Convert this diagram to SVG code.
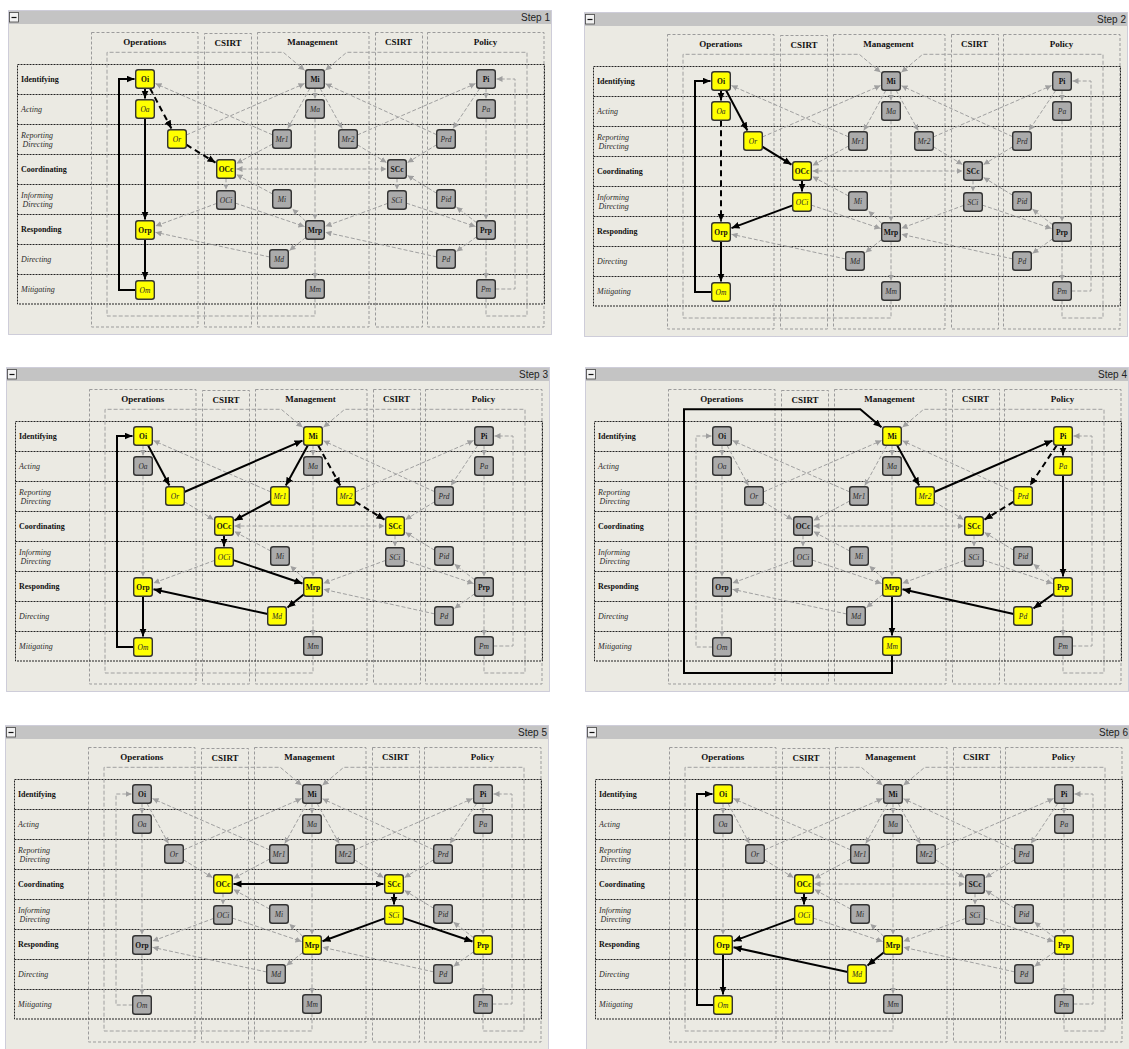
<svg xmlns="http://www.w3.org/2000/svg" xmlns:xlink="http://www.w3.org/1999/xlink" width="1129" height="1049" viewBox="0 0 1129 1049">
<style>
.fr{fill:#ebeae3;stroke:#a6a6c0;stroke-dasharray:1 1}
.bar{fill:#c4c4c4}
.mb{fill:#f2f2f2;stroke:#444;stroke-width:.8}
.col{fill:none;stroke:#9b9b9b;stroke-dasharray:3 2}
.rl{fill:none;stroke:#222;stroke-dasharray:2 1}
.hd{font-family:"Liberation Serif","DejaVu Serif",serif;font-weight:bold;font-size:9px;text-anchor:middle;fill:#111}
.rb{font-family:"Liberation Serif","DejaVu Serif",serif;font-weight:bold;font-size:8px;fill:#111}
.ri{font-family:"Liberation Serif","DejaVu Serif",serif;font-style:italic;font-size:8px;fill:#2b2b2b}
.st{font-family:"Liberation Sans",Arial,sans-serif;font-size:10px;text-anchor:end;fill:#222}
.g{fill:none;stroke:#a0a0a0;stroke-dasharray:4 2;marker-end:url(#ag)}
.g2{marker-start:url(#ag)}
.bk{fill:none;stroke:#000;stroke-width:2;marker-end:url(#ab)}
.b2{marker-start:url(#ab)}
.d{stroke-dasharray:6 4}
.n rect{stroke:#333;stroke-width:1.4}
.k rect{fill:#ababab}
.y rect{fill:#ffff00}
.n text{font-family:"Liberation Serif","DejaVu Serif",serif;font-size:7.5px;text-anchor:middle;fill:#111}
.bo text{font-weight:bold}
.it text{font-style:italic;fill:#2a2a2a}
</style>
<defs>
<marker id="ag" markerUnits="userSpaceOnUse" markerWidth="7" markerHeight="6" refX="6" refY="3" orient="auto-start-reverse"><path d="M0 0L6 3L0 6z" fill="#a0a0a0"/></marker>
<marker id="ab" markerUnits="userSpaceOnUse" markerWidth="9" markerHeight="8" refX="8" refY="3.5" orient="auto-start-reverse"><path d="M0 0L8 3.5L0 7z" fill="#000"/></marker>
<g id="grid">
<rect class="fr" x="8.5" y="10.5" width="543" height="324"/>
<rect class="bar" x="9" y="11" width="542" height="13"/>
<rect class="mb" x="9.5" y="12.5" width="9" height="9.5"/>
<path d="M11.5 17.5H16.5" stroke="#111" stroke-width="1.2"/>
<rect class="col" x="91.5" y="32.5" width="106.5" height="294.5"/>
<rect class="col" x="204.5" y="33.5" width="47" height="293.5"/>
<rect class="col" x="257.5" y="32.5" width="111.5" height="294.5"/>
<rect class="col" x="375.5" y="32.5" width="47" height="294.5"/>
<rect class="col" x="427.5" y="32.5" width="116.5" height="294.5"/>
<rect class="rl" x="17.5" y="64.5" width="527" height="239.5"/>
<path class="rl" d="M17.5 94.5H544.5M17.5 124.5H544.5M17.5 154.5H544.5M17.5 184.5H544.5M17.5 214.5H544.5M17.5 244.5H544.5M17.5 274.5H544.5"/>
</g>
</defs>
<rect width="1129" height="1049" fill="#fff"/>

<!-- PANEL 1 -->
<g id="panel1" transform="translate(0 0)">
<use href="#grid"/>
<text class="st" x="550" y="21">Step 1</text>
<text class="hd" x="144.7" y="45">Operations</text><text class="hd" x="228" y="46">CSIRT</text><text class="hd" x="312.5" y="45">Management</text><text class="hd" x="398.5" y="45">CSIRT</text><text class="hd" x="485.5" y="45">Policy</text>
<text class="rb" x="21" y="82">Identifying</text><text class="ri" x="21" y="112">Acting</text><text class="ri" x="21" y="137.5">Reporting<tspan x="22.5" y="146.5">Directing</tspan></text><text class="rb" x="21" y="172">Coordinating</text><text class="ri" x="21" y="197.5">Informing<tspan x="22.5" y="206.5">Directing</tspan></text><text class="rb" x="21" y="232">Responding</text><text class="ri" x="21" y="262">Directing</text><text class="ri" x="21" y="292">Mitigating</text>
<g id="p1-edges">
<path class="g" d="M186.3 135L304.5 83.6"/><path class="g" d="M272.7 134.9L155.5 83.6"/><path class="g" d="M272.7 144L236.5 163.4"/><path class="g" d="M315 88.3V98.5"/><path class="g" d="M309.9 88.3L287.8 128.5"/><path class="g" d="M320.1 88.3L342.2 128.5"/><path class="g" d="M357.3 144.7L386.5 162.6"/><path class="g" d="M357.3 135L475.5 83.6"/><path class="g" d="M436.7 134.7L325.5 83.8"/><path class="g" d="M486 88.3V98.5"/><path class="g" d="M479.8 88.3L453 128.5"/><path class="g" d="M436.7 144.7L407.5 162.6"/><path class="g g2" d="M236.5 169H386.5"/><path class="g" d="M226 178.3V189.5"/><path class="g" d="M397 178.3V189.5"/><path class="g" d="M272.7 194L236.5 174.6"/><path class="g" d="M305.7 221.3L292.5 208.9"/><path class="g" d="M436.7 193.3L407.5 175.4"/><path class="g" d="M476.7 222.8L456.5 207.1"/><path class="g" d="M216.7 203.4L155.5 226.1"/><path class="g" d="M235.3 203.1L304.5 226.5"/><path class="g" d="M387.7 203.4L325.5 226.2"/><path class="g" d="M406.3 203.1L475.5 226.5"/><path class="g" d="M315 118.3V219.5"/><path class="g" d="M486 118.3V219.5"/><path class="g" d="M305.7 237.5L289.5 250.5"/><path class="g" d="M315 239.3V278.5"/><path class="g" d="M269.7 257L155.5 232.3"/><path class="g" d="M476.7 236.7L456.5 251.4"/><path class="g" d="M436.7 256.9L325.5 232.3"/><path class="g" d="M486 239.3V278.5"/><path class="g" d="M315 298.3V316H107V52.3H283.3L304.5 70.2"/><path class="g" d="M486 298.3V316H527V52.3H346.7L325.5 70.2"/><path class="g" d="M495.3 289H515V79H496.5"/>
<path class="bk" d="M145 88.3V98.5"/><path class="bk" d="M145 118.3V219.5"/><path class="bk" d="M145 239.3V279.5"/><path class="bk" d="M135.7 290H119V79H134.5"/>
<path class="bk d" d="M150 88.3L171.4 128.5"/><path class="bk d" d="M186.3 144.7L215.5 162.6"/>
</g>
<g id="p1-nodes">
<g id="p1-Oi" class="n y bo" transform="translate(145 79)"><rect x="-9.3" y="-9.3" width="18.6" height="18.6" rx="2.5"/><text y="2.8">Oi</text></g>
<g id="p1-Oa" class="n y it" transform="translate(145 109)"><rect x="-9.3" y="-9.3" width="18.6" height="18.6" rx="2.5"/><text y="2.8">Oa</text></g>
<g id="p1-Or" class="n y it" transform="translate(177 139)"><rect x="-9.3" y="-9.3" width="18.6" height="18.6" rx="2.5"/><text y="2.8">Or</text></g>
<g id="p1-OCc" class="n y bo" transform="translate(226 169)"><rect x="-9.3" y="-9.3" width="18.6" height="18.6" rx="2.5"/><text y="2.8">OCc</text></g>
<g id="p1-OCi" class="n k it" transform="translate(226 200)"><rect x="-9.3" y="-9.3" width="18.6" height="18.6" rx="2.5"/><text y="2.8">OCi</text></g>
<g id="p1-Orp" class="n y bo" transform="translate(145 230)"><rect x="-9.3" y="-9.3" width="18.6" height="18.6" rx="2.5"/><text y="2.8">Orp</text></g>
<g id="p1-Om" class="n y it" transform="translate(145 290)"><rect x="-9.3" y="-9.3" width="18.6" height="18.6" rx="2.5"/><text y="2.8">Om</text></g>
<g id="p1-Mi" class="n k bo" transform="translate(315 79)"><rect x="-9.3" y="-9.3" width="18.6" height="18.6" rx="2.5"/><text y="2.8">Mi</text></g>
<g id="p1-Ma" class="n k it" transform="translate(315 109)"><rect x="-9.3" y="-9.3" width="18.6" height="18.6" rx="2.5"/><text y="2.8">Ma</text></g>
<g id="p1-Mr1" class="n k it" transform="translate(282 139)"><rect x="-9.3" y="-9.3" width="18.6" height="18.6" rx="2.5"/><text y="2.8">Mr1</text></g>
<g id="p1-Mr2" class="n k it" transform="translate(348 139)"><rect x="-9.3" y="-9.3" width="18.6" height="18.6" rx="2.5"/><text y="2.8">Mr2</text></g>
<g id="p1-Mi2" class="n k it" transform="translate(282 199)"><rect x="-9.3" y="-9.3" width="18.6" height="18.6" rx="2.5"/><text y="2.8">Mi</text></g>
<g id="p1-Mrp" class="n k bo" transform="translate(315 230)"><rect x="-9.3" y="-9.3" width="18.6" height="18.6" rx="2.5"/><text y="2.8">Mrp</text></g>
<g id="p1-Md" class="n k it" transform="translate(279 259)"><rect x="-9.3" y="-9.3" width="18.6" height="18.6" rx="2.5"/><text y="2.8">Md</text></g>
<g id="p1-Mm" class="n k it" transform="translate(315 289)"><rect x="-9.3" y="-9.3" width="18.6" height="18.6" rx="2.5"/><text y="2.8">Mm</text></g>
<g id="p1-SCc" class="n k bo" transform="translate(397 169)"><rect x="-9.3" y="-9.3" width="18.6" height="18.6" rx="2.5"/><text y="2.8">SCc</text></g>
<g id="p1-SCi" class="n k it" transform="translate(397 200)"><rect x="-9.3" y="-9.3" width="18.6" height="18.6" rx="2.5"/><text y="2.8">SCi</text></g>
<g id="p1-Pi" class="n k bo" transform="translate(486 79)"><rect x="-9.3" y="-9.3" width="18.6" height="18.6" rx="2.5"/><text y="2.8">Pi</text></g>
<g id="p1-Pa" class="n k it" transform="translate(486 109)"><rect x="-9.3" y="-9.3" width="18.6" height="18.6" rx="2.5"/><text y="2.8">Pa</text></g>
<g id="p1-Prd" class="n k it" transform="translate(446 139)"><rect x="-9.3" y="-9.3" width="18.6" height="18.6" rx="2.5"/><text y="2.8">Prd</text></g>
<g id="p1-Pid" class="n k it" transform="translate(446 199)"><rect x="-9.3" y="-9.3" width="18.6" height="18.6" rx="2.5"/><text y="2.8">Pid</text></g>
<g id="p1-Prp" class="n k bo" transform="translate(486 230)"><rect x="-9.3" y="-9.3" width="18.6" height="18.6" rx="2.5"/><text y="2.8">Prp</text></g>
<g id="p1-Pd" class="n k it" transform="translate(446 259)"><rect x="-9.3" y="-9.3" width="18.6" height="18.6" rx="2.5"/><text y="2.8">Pd</text></g>
<g id="p1-Pm" class="n k it" transform="translate(486 289)"><rect x="-9.3" y="-9.3" width="18.6" height="18.6" rx="2.5"/><text y="2.8">Pm</text></g>
</g>
</g>

<!-- PANEL 2 -->
<g id="panel2" transform="translate(576 2)">
<use href="#grid"/>
<text class="st" x="550" y="21">Step 2</text>
<text class="hd" x="144.7" y="45">Operations</text><text class="hd" x="228" y="46">CSIRT</text><text class="hd" x="312.5" y="45">Management</text><text class="hd" x="398.5" y="45">CSIRT</text><text class="hd" x="485.5" y="45">Policy</text>
<text class="rb" x="21" y="82">Identifying</text><text class="ri" x="21" y="112">Acting</text><text class="ri" x="21" y="137.5">Reporting<tspan x="22.5" y="146.5">Directing</tspan></text><text class="rb" x="21" y="172">Coordinating</text><text class="ri" x="21" y="197.5">Informing<tspan x="22.5" y="206.5">Directing</tspan></text><text class="rb" x="21" y="232">Responding</text><text class="ri" x="21" y="262">Directing</text><text class="ri" x="21" y="292">Mitigating</text>
<g id="p2-edges">
<path class="g" d="M186.3 135L304.5 83.6"/><path class="g" d="M272.7 134.9L155.5 83.6"/><path class="g" d="M272.7 144L236.5 163.4"/><path class="g" d="M315 88.3V98.5"/><path class="g" d="M309.9 88.3L287.8 128.5"/><path class="g" d="M320.1 88.3L342.2 128.5"/><path class="g" d="M357.3 144.7L386.5 162.6"/><path class="g" d="M357.3 135L475.5 83.6"/><path class="g" d="M436.7 134.7L325.5 83.8"/><path class="g" d="M486 88.3V98.5"/><path class="g" d="M479.8 88.3L453 128.5"/><path class="g" d="M436.7 144.7L407.5 162.6"/><path class="g g2" d="M236.5 169H386.5"/><path class="g" d="M397 178.3V189.5"/><path class="g" d="M272.7 194L236.5 174.6"/><path class="g" d="M305.7 221.3L292.5 208.9"/><path class="g" d="M436.7 193.3L407.5 175.4"/><path class="g" d="M476.7 222.8L456.5 207.1"/><path class="g" d="M235.3 203.1L304.5 226.5"/><path class="g" d="M387.7 203.4L325.5 226.2"/><path class="g" d="M406.3 203.1L475.5 226.5"/><path class="g" d="M315 118.3V219.5"/><path class="g" d="M486 118.3V219.5"/><path class="g" d="M305.7 237.5L289.5 250.5"/><path class="g" d="M315 239.3V278.5"/><path class="g" d="M269.7 257L155.5 232.3"/><path class="g" d="M476.7 236.7L456.5 251.4"/><path class="g" d="M436.7 256.9L325.5 232.3"/><path class="g" d="M486 239.3V278.5"/><path class="g" d="M315 298.3V316H107V52.3H283.3L304.5 70.2"/><path class="g" d="M486 298.3V316H527V52.3H346.7L325.5 70.2"/><path class="g" d="M495.3 289H515V79H496.5"/>
<path class="bk" d="M145 88.3V98.5"/><path class="bk" d="M150 88.3L171.4 128.5"/><path class="bk" d="M186.3 144.7L215.5 162.6"/><path class="bk" d="M226 178.3V189.5"/><path class="bk" d="M216.7 203.4L155.5 226.1"/><path class="bk" d="M145 239.3V279.5"/><path class="bk" d="M135.7 290H119V79H134.5"/>
<path class="bk d" d="M145 118.3V219.5"/>
</g>
<g id="p2-nodes">
<g id="p2-Oi" class="n y bo" transform="translate(145 79)"><rect x="-9.3" y="-9.3" width="18.6" height="18.6" rx="2.5"/><text y="2.8">Oi</text></g>
<g id="p2-Oa" class="n y it" transform="translate(145 109)"><rect x="-9.3" y="-9.3" width="18.6" height="18.6" rx="2.5"/><text y="2.8">Oa</text></g>
<g id="p2-Or" class="n y it" transform="translate(177 139)"><rect x="-9.3" y="-9.3" width="18.6" height="18.6" rx="2.5"/><text y="2.8">Or</text></g>
<g id="p2-OCc" class="n y bo" transform="translate(226 169)"><rect x="-9.3" y="-9.3" width="18.6" height="18.6" rx="2.5"/><text y="2.8">OCc</text></g>
<g id="p2-OCi" class="n y it" transform="translate(226 200)"><rect x="-9.3" y="-9.3" width="18.6" height="18.6" rx="2.5"/><text y="2.8">OCi</text></g>
<g id="p2-Orp" class="n y bo" transform="translate(145 230)"><rect x="-9.3" y="-9.3" width="18.6" height="18.6" rx="2.5"/><text y="2.8">Orp</text></g>
<g id="p2-Om" class="n y it" transform="translate(145 290)"><rect x="-9.3" y="-9.3" width="18.6" height="18.6" rx="2.5"/><text y="2.8">Om</text></g>
<g id="p2-Mi" class="n k bo" transform="translate(315 79)"><rect x="-9.3" y="-9.3" width="18.6" height="18.6" rx="2.5"/><text y="2.8">Mi</text></g>
<g id="p2-Ma" class="n k it" transform="translate(315 109)"><rect x="-9.3" y="-9.3" width="18.6" height="18.6" rx="2.5"/><text y="2.8">Ma</text></g>
<g id="p2-Mr1" class="n k it" transform="translate(282 139)"><rect x="-9.3" y="-9.3" width="18.6" height="18.6" rx="2.5"/><text y="2.8">Mr1</text></g>
<g id="p2-Mr2" class="n k it" transform="translate(348 139)"><rect x="-9.3" y="-9.3" width="18.6" height="18.6" rx="2.5"/><text y="2.8">Mr2</text></g>
<g id="p2-Mi2" class="n k it" transform="translate(282 199)"><rect x="-9.3" y="-9.3" width="18.6" height="18.6" rx="2.5"/><text y="2.8">Mi</text></g>
<g id="p2-Mrp" class="n k bo" transform="translate(315 230)"><rect x="-9.3" y="-9.3" width="18.6" height="18.6" rx="2.5"/><text y="2.8">Mrp</text></g>
<g id="p2-Md" class="n k it" transform="translate(279 259)"><rect x="-9.3" y="-9.3" width="18.6" height="18.6" rx="2.5"/><text y="2.8">Md</text></g>
<g id="p2-Mm" class="n k it" transform="translate(315 289)"><rect x="-9.3" y="-9.3" width="18.6" height="18.6" rx="2.5"/><text y="2.8">Mm</text></g>
<g id="p2-SCc" class="n k bo" transform="translate(397 169)"><rect x="-9.3" y="-9.3" width="18.6" height="18.6" rx="2.5"/><text y="2.8">SCc</text></g>
<g id="p2-SCi" class="n k it" transform="translate(397 200)"><rect x="-9.3" y="-9.3" width="18.6" height="18.6" rx="2.5"/><text y="2.8">SCi</text></g>
<g id="p2-Pi" class="n k bo" transform="translate(486 79)"><rect x="-9.3" y="-9.3" width="18.6" height="18.6" rx="2.5"/><text y="2.8">Pi</text></g>
<g id="p2-Pa" class="n k it" transform="translate(486 109)"><rect x="-9.3" y="-9.3" width="18.6" height="18.6" rx="2.5"/><text y="2.8">Pa</text></g>
<g id="p2-Prd" class="n k it" transform="translate(446 139)"><rect x="-9.3" y="-9.3" width="18.6" height="18.6" rx="2.5"/><text y="2.8">Prd</text></g>
<g id="p2-Pid" class="n k it" transform="translate(446 199)"><rect x="-9.3" y="-9.3" width="18.6" height="18.6" rx="2.5"/><text y="2.8">Pid</text></g>
<g id="p2-Prp" class="n k bo" transform="translate(486 230)"><rect x="-9.3" y="-9.3" width="18.6" height="18.6" rx="2.5"/><text y="2.8">Prp</text></g>
<g id="p2-Pd" class="n k it" transform="translate(446 259)"><rect x="-9.3" y="-9.3" width="18.6" height="18.6" rx="2.5"/><text y="2.8">Pd</text></g>
<g id="p2-Pm" class="n k it" transform="translate(486 289)"><rect x="-9.3" y="-9.3" width="18.6" height="18.6" rx="2.5"/><text y="2.8">Pm</text></g>
</g>
</g>

<!-- PANEL 3 -->
<g id="panel3" transform="translate(-2 357)">
<use href="#grid"/>
<text class="st" x="550" y="21">Step 3</text>
<text class="hd" x="144.7" y="45">Operations</text><text class="hd" x="228" y="46">CSIRT</text><text class="hd" x="312.5" y="45">Management</text><text class="hd" x="398.5" y="45">CSIRT</text><text class="hd" x="485.5" y="45">Policy</text>
<text class="rb" x="21" y="82">Identifying</text><text class="ri" x="21" y="112">Acting</text><text class="ri" x="21" y="137.5">Reporting<tspan x="22.5" y="146.5">Directing</tspan></text><text class="rb" x="21" y="172">Coordinating</text><text class="ri" x="21" y="197.5">Informing<tspan x="22.5" y="206.5">Directing</tspan></text><text class="rb" x="21" y="232">Responding</text><text class="ri" x="21" y="262">Directing</text><text class="ri" x="21" y="292">Mitigating</text>
<g id="p3-edges">
<path class="g" d="M145 88.3V98.5"/><path class="g" d="M186.3 144.7L215.5 162.6"/><path class="g" d="M272.7 134.9L155.5 83.6"/><path class="g" d="M315 88.3V98.5"/><path class="g" d="M357.3 135L475.5 83.6"/><path class="g" d="M436.7 134.7L325.5 83.8"/><path class="g" d="M486 88.3V98.5"/><path class="g" d="M479.8 88.3L453 128.5"/><path class="g" d="M436.7 144.7L407.5 162.6"/><path class="g g2" d="M236.5 169H386.5"/><path class="g" d="M397 178.3V189.5"/><path class="g" d="M272.7 194L236.5 174.6"/><path class="g" d="M305.7 221.3L292.5 208.9"/><path class="g" d="M436.7 193.3L407.5 175.4"/><path class="g" d="M476.7 222.8L456.5 207.1"/><path class="g" d="M216.7 203.4L155.5 226.1"/><path class="g" d="M387.7 203.4L325.5 226.2"/><path class="g" d="M406.3 203.1L475.5 226.5"/><path class="g" d="M145 118.3V219.5"/><path class="g" d="M315 118.3V219.5"/><path class="g" d="M486 118.3V219.5"/><path class="g" d="M315 239.3V278.5"/><path class="g" d="M476.7 236.7L456.5 251.4"/><path class="g" d="M436.7 256.9L325.5 232.3"/><path class="g" d="M486 239.3V278.5"/><path class="g" d="M315 298.3V316H107V52.3H283.3L304.5 70.2"/><path class="g" d="M486 298.3V316H527V52.3H346.7L325.5 70.2"/><path class="g" d="M495.3 289H515V79H496.5"/>
<path class="bk" d="M150 88.3L171.4 128.5"/><path class="bk" d="M186.3 135L304.5 83.6"/><path class="bk" d="M309.9 88.3L287.8 128.5"/><path class="bk" d="M272.7 144L236.5 163.4"/><path class="bk" d="M226 178.3V189.5"/><path class="bk" d="M235.3 203.1L304.5 226.5"/><path class="bk" d="M305.7 237.5L289.5 250.5"/><path class="bk" d="M269.7 257L155.5 232.3"/><path class="bk" d="M145 239.3V279.5"/><path class="bk" d="M135.7 290H119V79H134.5"/>
<path class="bk d" d="M320.1 88.3L342.2 128.5"/><path class="bk d" d="M357.3 144.7L386.5 162.6"/>
</g>
<g id="p3-nodes">
<g id="p3-Oi" class="n y bo" transform="translate(145 79)"><rect x="-9.3" y="-9.3" width="18.6" height="18.6" rx="2.5"/><text y="2.8">Oi</text></g>
<g id="p3-Oa" class="n k it" transform="translate(145 109)"><rect x="-9.3" y="-9.3" width="18.6" height="18.6" rx="2.5"/><text y="2.8">Oa</text></g>
<g id="p3-Or" class="n y it" transform="translate(177 139)"><rect x="-9.3" y="-9.3" width="18.6" height="18.6" rx="2.5"/><text y="2.8">Or</text></g>
<g id="p3-OCc" class="n y bo" transform="translate(226 169)"><rect x="-9.3" y="-9.3" width="18.6" height="18.6" rx="2.5"/><text y="2.8">OCc</text></g>
<g id="p3-OCi" class="n y it" transform="translate(226 200)"><rect x="-9.3" y="-9.3" width="18.6" height="18.6" rx="2.5"/><text y="2.8">OCi</text></g>
<g id="p3-Orp" class="n y bo" transform="translate(145 230)"><rect x="-9.3" y="-9.3" width="18.6" height="18.6" rx="2.5"/><text y="2.8">Orp</text></g>
<g id="p3-Om" class="n y it" transform="translate(145 290)"><rect x="-9.3" y="-9.3" width="18.6" height="18.6" rx="2.5"/><text y="2.8">Om</text></g>
<g id="p3-Mi" class="n y bo" transform="translate(315 79)"><rect x="-9.3" y="-9.3" width="18.6" height="18.6" rx="2.5"/><text y="2.8">Mi</text></g>
<g id="p3-Ma" class="n k it" transform="translate(315 109)"><rect x="-9.3" y="-9.3" width="18.6" height="18.6" rx="2.5"/><text y="2.8">Ma</text></g>
<g id="p3-Mr1" class="n y it" transform="translate(282 139)"><rect x="-9.3" y="-9.3" width="18.6" height="18.6" rx="2.5"/><text y="2.8">Mr1</text></g>
<g id="p3-Mr2" class="n y it" transform="translate(348 139)"><rect x="-9.3" y="-9.3" width="18.6" height="18.6" rx="2.5"/><text y="2.8">Mr2</text></g>
<g id="p3-Mi2" class="n k it" transform="translate(282 199)"><rect x="-9.3" y="-9.3" width="18.6" height="18.6" rx="2.5"/><text y="2.8">Mi</text></g>
<g id="p3-Mrp" class="n y bo" transform="translate(315 230)"><rect x="-9.3" y="-9.3" width="18.6" height="18.6" rx="2.5"/><text y="2.8">Mrp</text></g>
<g id="p3-Md" class="n y it" transform="translate(279 259)"><rect x="-9.3" y="-9.3" width="18.6" height="18.6" rx="2.5"/><text y="2.8">Md</text></g>
<g id="p3-Mm" class="n k it" transform="translate(315 289)"><rect x="-9.3" y="-9.3" width="18.6" height="18.6" rx="2.5"/><text y="2.8">Mm</text></g>
<g id="p3-SCc" class="n y bo" transform="translate(397 169)"><rect x="-9.3" y="-9.3" width="18.6" height="18.6" rx="2.5"/><text y="2.8">SCc</text></g>
<g id="p3-SCi" class="n k it" transform="translate(397 200)"><rect x="-9.3" y="-9.3" width="18.6" height="18.6" rx="2.5"/><text y="2.8">SCi</text></g>
<g id="p3-Pi" class="n k bo" transform="translate(486 79)"><rect x="-9.3" y="-9.3" width="18.6" height="18.6" rx="2.5"/><text y="2.8">Pi</text></g>
<g id="p3-Pa" class="n k it" transform="translate(486 109)"><rect x="-9.3" y="-9.3" width="18.6" height="18.6" rx="2.5"/><text y="2.8">Pa</text></g>
<g id="p3-Prd" class="n k it" transform="translate(446 139)"><rect x="-9.3" y="-9.3" width="18.6" height="18.6" rx="2.5"/><text y="2.8">Prd</text></g>
<g id="p3-Pid" class="n k it" transform="translate(446 199)"><rect x="-9.3" y="-9.3" width="18.6" height="18.6" rx="2.5"/><text y="2.8">Pid</text></g>
<g id="p3-Prp" class="n k bo" transform="translate(486 230)"><rect x="-9.3" y="-9.3" width="18.6" height="18.6" rx="2.5"/><text y="2.8">Prp</text></g>
<g id="p3-Pd" class="n k it" transform="translate(446 259)"><rect x="-9.3" y="-9.3" width="18.6" height="18.6" rx="2.5"/><text y="2.8">Pd</text></g>
<g id="p3-Pm" class="n k it" transform="translate(486 289)"><rect x="-9.3" y="-9.3" width="18.6" height="18.6" rx="2.5"/><text y="2.8">Pm</text></g>
</g>
</g>

<!-- PANEL 4 -->
<g id="panel4" transform="translate(577 357)">
<use href="#grid"/>
<text class="st" x="550" y="21">Step 4</text>
<text class="hd" x="144.7" y="45">Operations</text><text class="hd" x="228" y="46">CSIRT</text><text class="hd" x="312.5" y="45">Management</text><text class="hd" x="398.5" y="45">CSIRT</text><text class="hd" x="485.5" y="45">Policy</text>
<text class="rb" x="21" y="82">Identifying</text><text class="ri" x="21" y="112">Acting</text><text class="ri" x="21" y="137.5">Reporting<tspan x="22.5" y="146.5">Directing</tspan></text><text class="rb" x="21" y="172">Coordinating</text><text class="ri" x="21" y="197.5">Informing<tspan x="22.5" y="206.5">Directing</tspan></text><text class="rb" x="21" y="232">Responding</text><text class="ri" x="21" y="262">Directing</text><text class="ri" x="21" y="292">Mitigating</text>
<g id="p4-edges">
<path class="g" d="M145 88.3V98.5"/><path class="g" d="M150 88.3L171.4 128.5"/><path class="g" d="M186.3 144.7L215.5 162.6"/><path class="g" d="M186.3 135L304.5 83.6"/><path class="g" d="M272.7 134.9L155.5 83.6"/><path class="g" d="M272.7 144L236.5 163.4"/><path class="g" d="M315 88.3V98.5"/><path class="g" d="M309.9 88.3L287.8 128.5"/><path class="g" d="M357.3 144.7L386.5 162.6"/><path class="g" d="M436.7 134.7L325.5 83.8"/><path class="g g2" d="M236.5 169H386.5"/><path class="g" d="M226 178.3V189.5"/><path class="g" d="M397 178.3V189.5"/><path class="g" d="M272.7 194L236.5 174.6"/><path class="g" d="M305.7 221.3L292.5 208.9"/><path class="g" d="M436.7 193.3L407.5 175.4"/><path class="g" d="M476.7 222.8L456.5 207.1"/><path class="g" d="M216.7 203.4L155.5 226.1"/><path class="g" d="M235.3 203.1L304.5 226.5"/><path class="g" d="M387.7 203.4L325.5 226.2"/><path class="g" d="M406.3 203.1L475.5 226.5"/><path class="g" d="M145 118.3V219.5"/><path class="g" d="M315 118.3V219.5"/><path class="g" d="M145 239.3V279.5"/><path class="g" d="M305.7 237.5L289.5 250.5"/><path class="g" d="M269.7 257L155.5 232.3"/><path class="g" d="M486 239.3V278.5"/><path class="g" d="M135.7 290H119V79H134.5"/><path class="g" d="M486 298.3V316H527V52.3H346.7L325.5 70.2"/><path class="g" d="M495.3 289H515V79H496.5"/>
<path class="bk" d="M320.1 88.3L342.2 128.5"/><path class="bk" d="M357.3 135L475.5 83.6"/><path class="bk" d="M486 88.3V98.5"/><path class="bk" d="M486 118.3V219.5"/><path class="bk" d="M476.7 236.7L456.5 251.4"/><path class="bk" d="M436.7 256.9L325.5 232.3"/><path class="bk" d="M315 239.3V278.5"/><path class="bk" d="M315 298.3V316H107V52.3H283.3L304.5 70.2"/>
<path class="bk d" d="M479.8 88.3L453 128.5"/><path class="bk d" d="M436.7 144.7L407.5 162.6"/>
</g>
<g id="p4-nodes">
<g id="p4-Oi" class="n k bo" transform="translate(145 79)"><rect x="-9.3" y="-9.3" width="18.6" height="18.6" rx="2.5"/><text y="2.8">Oi</text></g>
<g id="p4-Oa" class="n k it" transform="translate(145 109)"><rect x="-9.3" y="-9.3" width="18.6" height="18.6" rx="2.5"/><text y="2.8">Oa</text></g>
<g id="p4-Or" class="n k it" transform="translate(177 139)"><rect x="-9.3" y="-9.3" width="18.6" height="18.6" rx="2.5"/><text y="2.8">Or</text></g>
<g id="p4-OCc" class="n k bo" transform="translate(226 169)"><rect x="-9.3" y="-9.3" width="18.6" height="18.6" rx="2.5"/><text y="2.8">OCc</text></g>
<g id="p4-OCi" class="n k it" transform="translate(226 200)"><rect x="-9.3" y="-9.3" width="18.6" height="18.6" rx="2.5"/><text y="2.8">OCi</text></g>
<g id="p4-Orp" class="n k bo" transform="translate(145 230)"><rect x="-9.3" y="-9.3" width="18.6" height="18.6" rx="2.5"/><text y="2.8">Orp</text></g>
<g id="p4-Om" class="n k it" transform="translate(145 290)"><rect x="-9.3" y="-9.3" width="18.6" height="18.6" rx="2.5"/><text y="2.8">Om</text></g>
<g id="p4-Mi" class="n y bo" transform="translate(315 79)"><rect x="-9.3" y="-9.3" width="18.6" height="18.6" rx="2.5"/><text y="2.8">Mi</text></g>
<g id="p4-Ma" class="n k it" transform="translate(315 109)"><rect x="-9.3" y="-9.3" width="18.6" height="18.6" rx="2.5"/><text y="2.8">Ma</text></g>
<g id="p4-Mr1" class="n k it" transform="translate(282 139)"><rect x="-9.3" y="-9.3" width="18.6" height="18.6" rx="2.5"/><text y="2.8">Mr1</text></g>
<g id="p4-Mr2" class="n y it" transform="translate(348 139)"><rect x="-9.3" y="-9.3" width="18.6" height="18.6" rx="2.5"/><text y="2.8">Mr2</text></g>
<g id="p4-Mi2" class="n k it" transform="translate(282 199)"><rect x="-9.3" y="-9.3" width="18.6" height="18.6" rx="2.5"/><text y="2.8">Mi</text></g>
<g id="p4-Mrp" class="n y bo" transform="translate(315 230)"><rect x="-9.3" y="-9.3" width="18.6" height="18.6" rx="2.5"/><text y="2.8">Mrp</text></g>
<g id="p4-Md" class="n k it" transform="translate(279 259)"><rect x="-9.3" y="-9.3" width="18.6" height="18.6" rx="2.5"/><text y="2.8">Md</text></g>
<g id="p4-Mm" class="n y it" transform="translate(315 289)"><rect x="-9.3" y="-9.3" width="18.6" height="18.6" rx="2.5"/><text y="2.8">Mm</text></g>
<g id="p4-SCc" class="n y bo" transform="translate(397 169)"><rect x="-9.3" y="-9.3" width="18.6" height="18.6" rx="2.5"/><text y="2.8">SCc</text></g>
<g id="p4-SCi" class="n k it" transform="translate(397 200)"><rect x="-9.3" y="-9.3" width="18.6" height="18.6" rx="2.5"/><text y="2.8">SCi</text></g>
<g id="p4-Pi" class="n y bo" transform="translate(486 79)"><rect x="-9.3" y="-9.3" width="18.6" height="18.6" rx="2.5"/><text y="2.8">Pi</text></g>
<g id="p4-Pa" class="n y it" transform="translate(486 109)"><rect x="-9.3" y="-9.3" width="18.6" height="18.6" rx="2.5"/><text y="2.8">Pa</text></g>
<g id="p4-Prd" class="n y it" transform="translate(446 139)"><rect x="-9.3" y="-9.3" width="18.6" height="18.6" rx="2.5"/><text y="2.8">Prd</text></g>
<g id="p4-Pid" class="n k it" transform="translate(446 199)"><rect x="-9.3" y="-9.3" width="18.6" height="18.6" rx="2.5"/><text y="2.8">Pid</text></g>
<g id="p4-Prp" class="n y bo" transform="translate(486 230)"><rect x="-9.3" y="-9.3" width="18.6" height="18.6" rx="2.5"/><text y="2.8">Prp</text></g>
<g id="p4-Pd" class="n y it" transform="translate(446 259)"><rect x="-9.3" y="-9.3" width="18.6" height="18.6" rx="2.5"/><text y="2.8">Pd</text></g>
<g id="p4-Pm" class="n k it" transform="translate(486 289)"><rect x="-9.3" y="-9.3" width="18.6" height="18.6" rx="2.5"/><text y="2.8">Pm</text></g>
</g>
</g>

<!-- PANEL 5 -->
<g id="panel5" transform="translate(-3 715)">
<use href="#grid"/>
<text class="st" x="550" y="21">Step 5</text>
<text class="hd" x="144.7" y="45">Operations</text><text class="hd" x="228" y="46">CSIRT</text><text class="hd" x="312.5" y="45">Management</text><text class="hd" x="398.5" y="45">CSIRT</text><text class="hd" x="485.5" y="45">Policy</text>
<text class="rb" x="21" y="82">Identifying</text><text class="ri" x="21" y="112">Acting</text><text class="ri" x="21" y="137.5">Reporting<tspan x="22.5" y="146.5">Directing</tspan></text><text class="rb" x="21" y="172">Coordinating</text><text class="ri" x="21" y="197.5">Informing<tspan x="22.5" y="206.5">Directing</tspan></text><text class="rb" x="21" y="232">Responding</text><text class="ri" x="21" y="262">Directing</text><text class="ri" x="21" y="292">Mitigating</text>
<g id="p5-edges">
<path class="g" d="M145 88.3V98.5"/><path class="g" d="M150 88.3L171.4 128.5"/><path class="g" d="M186.3 144.7L215.5 162.6"/><path class="g" d="M186.3 135L304.5 83.6"/><path class="g" d="M272.7 134.9L155.5 83.6"/><path class="g" d="M272.7 144L236.5 163.4"/><path class="g" d="M315 88.3V98.5"/><path class="g" d="M309.9 88.3L287.8 128.5"/><path class="g" d="M320.1 88.3L342.2 128.5"/><path class="g" d="M357.3 144.7L386.5 162.6"/><path class="g" d="M357.3 135L475.5 83.6"/><path class="g" d="M436.7 134.7L325.5 83.8"/><path class="g" d="M486 88.3V98.5"/><path class="g" d="M479.8 88.3L453 128.5"/><path class="g" d="M436.7 144.7L407.5 162.6"/><path class="g" d="M226 178.3V189.5"/><path class="g" d="M272.7 194L236.5 174.6"/><path class="g" d="M305.7 221.3L292.5 208.9"/><path class="g" d="M436.7 193.3L407.5 175.4"/><path class="g" d="M476.7 222.8L456.5 207.1"/><path class="g" d="M216.7 203.4L155.5 226.1"/><path class="g" d="M235.3 203.1L304.5 226.5"/><path class="g" d="M145 118.3V219.5"/><path class="g" d="M315 118.3V219.5"/><path class="g" d="M486 118.3V219.5"/><path class="g" d="M145 239.3V279.5"/><path class="g" d="M305.7 237.5L289.5 250.5"/><path class="g" d="M315 239.3V278.5"/><path class="g" d="M269.7 257L155.5 232.3"/><path class="g" d="M476.7 236.7L456.5 251.4"/><path class="g" d="M436.7 256.9L325.5 232.3"/><path class="g" d="M486 239.3V278.5"/><path class="g" d="M135.7 290H119V79H134.5"/><path class="g" d="M315 298.3V316H107V52.3H283.3L304.5 70.2"/><path class="g" d="M486 298.3V316H527V52.3H346.7L325.5 70.2"/><path class="g" d="M495.3 289H515V79H496.5"/>
<path class="bk b2" d="M236.5 169H386.5"/><path class="bk" d="M397 178.3V189.5"/><path class="bk" d="M387.7 203.4L325.5 226.2"/><path class="bk" d="M406.3 203.1L475.5 226.5"/>
</g>
<g id="p5-nodes">
<g id="p5-Oi" class="n k bo" transform="translate(145 79)"><rect x="-9.3" y="-9.3" width="18.6" height="18.6" rx="2.5"/><text y="2.8">Oi</text></g>
<g id="p5-Oa" class="n k it" transform="translate(145 109)"><rect x="-9.3" y="-9.3" width="18.6" height="18.6" rx="2.5"/><text y="2.8">Oa</text></g>
<g id="p5-Or" class="n k it" transform="translate(177 139)"><rect x="-9.3" y="-9.3" width="18.6" height="18.6" rx="2.5"/><text y="2.8">Or</text></g>
<g id="p5-OCc" class="n y bo" transform="translate(226 169)"><rect x="-9.3" y="-9.3" width="18.6" height="18.6" rx="2.5"/><text y="2.8">OCc</text></g>
<g id="p5-OCi" class="n k it" transform="translate(226 200)"><rect x="-9.3" y="-9.3" width="18.6" height="18.6" rx="2.5"/><text y="2.8">OCi</text></g>
<g id="p5-Orp" class="n k bo" transform="translate(145 230)"><rect x="-9.3" y="-9.3" width="18.6" height="18.6" rx="2.5"/><text y="2.8">Orp</text></g>
<g id="p5-Om" class="n k it" transform="translate(145 290)"><rect x="-9.3" y="-9.3" width="18.6" height="18.6" rx="2.5"/><text y="2.8">Om</text></g>
<g id="p5-Mi" class="n k bo" transform="translate(315 79)"><rect x="-9.3" y="-9.3" width="18.6" height="18.6" rx="2.5"/><text y="2.8">Mi</text></g>
<g id="p5-Ma" class="n k it" transform="translate(315 109)"><rect x="-9.3" y="-9.3" width="18.6" height="18.6" rx="2.5"/><text y="2.8">Ma</text></g>
<g id="p5-Mr1" class="n k it" transform="translate(282 139)"><rect x="-9.3" y="-9.3" width="18.6" height="18.6" rx="2.5"/><text y="2.8">Mr1</text></g>
<g id="p5-Mr2" class="n k it" transform="translate(348 139)"><rect x="-9.3" y="-9.3" width="18.6" height="18.6" rx="2.5"/><text y="2.8">Mr2</text></g>
<g id="p5-Mi2" class="n k it" transform="translate(282 199)"><rect x="-9.3" y="-9.3" width="18.6" height="18.6" rx="2.5"/><text y="2.8">Mi</text></g>
<g id="p5-Mrp" class="n y bo" transform="translate(315 230)"><rect x="-9.3" y="-9.3" width="18.6" height="18.6" rx="2.5"/><text y="2.8">Mrp</text></g>
<g id="p5-Md" class="n k it" transform="translate(279 259)"><rect x="-9.3" y="-9.3" width="18.6" height="18.6" rx="2.5"/><text y="2.8">Md</text></g>
<g id="p5-Mm" class="n k it" transform="translate(315 289)"><rect x="-9.3" y="-9.3" width="18.6" height="18.6" rx="2.5"/><text y="2.8">Mm</text></g>
<g id="p5-SCc" class="n y bo" transform="translate(397 169)"><rect x="-9.3" y="-9.3" width="18.6" height="18.6" rx="2.5"/><text y="2.8">SCc</text></g>
<g id="p5-SCi" class="n y it" transform="translate(397 200)"><rect x="-9.3" y="-9.3" width="18.6" height="18.6" rx="2.5"/><text y="2.8">SCi</text></g>
<g id="p5-Pi" class="n k bo" transform="translate(486 79)"><rect x="-9.3" y="-9.3" width="18.6" height="18.6" rx="2.5"/><text y="2.8">Pi</text></g>
<g id="p5-Pa" class="n k it" transform="translate(486 109)"><rect x="-9.3" y="-9.3" width="18.6" height="18.6" rx="2.5"/><text y="2.8">Pa</text></g>
<g id="p5-Prd" class="n k it" transform="translate(446 139)"><rect x="-9.3" y="-9.3" width="18.6" height="18.6" rx="2.5"/><text y="2.8">Prd</text></g>
<g id="p5-Pid" class="n k it" transform="translate(446 199)"><rect x="-9.3" y="-9.3" width="18.6" height="18.6" rx="2.5"/><text y="2.8">Pid</text></g>
<g id="p5-Prp" class="n y bo" transform="translate(486 230)"><rect x="-9.3" y="-9.3" width="18.6" height="18.6" rx="2.5"/><text y="2.8">Prp</text></g>
<g id="p5-Pd" class="n k it" transform="translate(446 259)"><rect x="-9.3" y="-9.3" width="18.6" height="18.6" rx="2.5"/><text y="2.8">Pd</text></g>
<g id="p5-Pm" class="n k it" transform="translate(486 289)"><rect x="-9.3" y="-9.3" width="18.6" height="18.6" rx="2.5"/><text y="2.8">Pm</text></g>
</g>
</g>

<!-- PANEL 6 -->
<g id="panel6" transform="translate(578 715)">
<use href="#grid"/>
<text class="st" x="550" y="21">Step 6</text>
<text class="hd" x="144.7" y="45">Operations</text><text class="hd" x="228" y="46">CSIRT</text><text class="hd" x="312.5" y="45">Management</text><text class="hd" x="398.5" y="45">CSIRT</text><text class="hd" x="485.5" y="45">Policy</text>
<text class="rb" x="21" y="82">Identifying</text><text class="ri" x="21" y="112">Acting</text><text class="ri" x="21" y="137.5">Reporting<tspan x="22.5" y="146.5">Directing</tspan></text><text class="rb" x="21" y="172">Coordinating</text><text class="ri" x="21" y="197.5">Informing<tspan x="22.5" y="206.5">Directing</tspan></text><text class="rb" x="21" y="232">Responding</text><text class="ri" x="21" y="262">Directing</text><text class="ri" x="21" y="292">Mitigating</text>
<g id="p6-edges">
<path class="g" d="M145 88.3V98.5"/><path class="g" d="M150 88.3L171.4 128.5"/><path class="g" d="M186.3 144.7L215.5 162.6"/><path class="g" d="M186.3 135L304.5 83.6"/><path class="g" d="M272.7 134.9L155.5 83.6"/><path class="g" d="M272.7 144L236.5 163.4"/><path class="g" d="M315 88.3V98.5"/><path class="g" d="M309.9 88.3L287.8 128.5"/><path class="g" d="M320.1 88.3L342.2 128.5"/><path class="g" d="M357.3 144.7L386.5 162.6"/><path class="g" d="M357.3 135L475.5 83.6"/><path class="g" d="M436.7 134.7L325.5 83.8"/><path class="g" d="M486 88.3V98.5"/><path class="g" d="M479.8 88.3L453 128.5"/><path class="g" d="M436.7 144.7L407.5 162.6"/><path class="g g2" d="M236.5 169H386.5"/><path class="g" d="M397 178.3V189.5"/><path class="g" d="M272.7 194L236.5 174.6"/><path class="g" d="M305.7 221.3L292.5 208.9"/><path class="g" d="M436.7 193.3L407.5 175.4"/><path class="g" d="M476.7 222.8L456.5 207.1"/><path class="g" d="M235.3 203.1L304.5 226.5"/><path class="g" d="M387.7 203.4L325.5 226.2"/><path class="g" d="M406.3 203.1L475.5 226.5"/><path class="g" d="M145 118.3V219.5"/><path class="g" d="M315 118.3V219.5"/><path class="g" d="M486 118.3V219.5"/><path class="g" d="M315 239.3V278.5"/><path class="g" d="M476.7 236.7L456.5 251.4"/><path class="g" d="M436.7 256.9L325.5 232.3"/><path class="g" d="M486 239.3V278.5"/><path class="g" d="M315 298.3V316H107V52.3H283.3L304.5 70.2"/><path class="g" d="M486 298.3V316H527V52.3H346.7L325.5 70.2"/><path class="g" d="M495.3 289H515V79H496.5"/>
<path class="bk" d="M226 178.3V189.5"/><path class="bk" d="M216.7 203.4L155.5 226.1"/><path class="bk" d="M305.7 237.5L289.5 250.5"/><path class="bk" d="M269.7 257L155.5 232.3"/><path class="bk" d="M145 239.3V279.5"/><path class="bk" d="M135.7 290H119V79H134.5"/>
</g>
<g id="p6-nodes">
<g id="p6-Oi" class="n y bo" transform="translate(145 79)"><rect x="-9.3" y="-9.3" width="18.6" height="18.6" rx="2.5"/><text y="2.8">Oi</text></g>
<g id="p6-Oa" class="n k it" transform="translate(145 109)"><rect x="-9.3" y="-9.3" width="18.6" height="18.6" rx="2.5"/><text y="2.8">Oa</text></g>
<g id="p6-Or" class="n k it" transform="translate(177 139)"><rect x="-9.3" y="-9.3" width="18.6" height="18.6" rx="2.5"/><text y="2.8">Or</text></g>
<g id="p6-OCc" class="n y bo" transform="translate(226 169)"><rect x="-9.3" y="-9.3" width="18.6" height="18.6" rx="2.5"/><text y="2.8">OCc</text></g>
<g id="p6-OCi" class="n y it" transform="translate(226 200)"><rect x="-9.3" y="-9.3" width="18.6" height="18.6" rx="2.5"/><text y="2.8">OCi</text></g>
<g id="p6-Orp" class="n y bo" transform="translate(145 230)"><rect x="-9.3" y="-9.3" width="18.6" height="18.6" rx="2.5"/><text y="2.8">Orp</text></g>
<g id="p6-Om" class="n y it" transform="translate(145 290)"><rect x="-9.3" y="-9.3" width="18.6" height="18.6" rx="2.5"/><text y="2.8">Om</text></g>
<g id="p6-Mi" class="n k bo" transform="translate(315 79)"><rect x="-9.3" y="-9.3" width="18.6" height="18.6" rx="2.5"/><text y="2.8">Mi</text></g>
<g id="p6-Ma" class="n k it" transform="translate(315 109)"><rect x="-9.3" y="-9.3" width="18.6" height="18.6" rx="2.5"/><text y="2.8">Ma</text></g>
<g id="p6-Mr1" class="n k it" transform="translate(282 139)"><rect x="-9.3" y="-9.3" width="18.6" height="18.6" rx="2.5"/><text y="2.8">Mr1</text></g>
<g id="p6-Mr2" class="n k it" transform="translate(348 139)"><rect x="-9.3" y="-9.3" width="18.6" height="18.6" rx="2.5"/><text y="2.8">Mr2</text></g>
<g id="p6-Mi2" class="n k it" transform="translate(282 199)"><rect x="-9.3" y="-9.3" width="18.6" height="18.6" rx="2.5"/><text y="2.8">Mi</text></g>
<g id="p6-Mrp" class="n y bo" transform="translate(315 230)"><rect x="-9.3" y="-9.3" width="18.6" height="18.6" rx="2.5"/><text y="2.8">Mrp</text></g>
<g id="p6-Md" class="n y it" transform="translate(279 259)"><rect x="-9.3" y="-9.3" width="18.6" height="18.6" rx="2.5"/><text y="2.8">Md</text></g>
<g id="p6-Mm" class="n k it" transform="translate(315 289)"><rect x="-9.3" y="-9.3" width="18.6" height="18.6" rx="2.5"/><text y="2.8">Mm</text></g>
<g id="p6-SCc" class="n k bo" transform="translate(397 169)"><rect x="-9.3" y="-9.3" width="18.6" height="18.6" rx="2.5"/><text y="2.8">SCc</text></g>
<g id="p6-SCi" class="n k it" transform="translate(397 200)"><rect x="-9.3" y="-9.3" width="18.6" height="18.6" rx="2.5"/><text y="2.8">SCi</text></g>
<g id="p6-Pi" class="n k bo" transform="translate(486 79)"><rect x="-9.3" y="-9.3" width="18.6" height="18.6" rx="2.5"/><text y="2.8">Pi</text></g>
<g id="p6-Pa" class="n k it" transform="translate(486 109)"><rect x="-9.3" y="-9.3" width="18.6" height="18.6" rx="2.5"/><text y="2.8">Pa</text></g>
<g id="p6-Prd" class="n k it" transform="translate(446 139)"><rect x="-9.3" y="-9.3" width="18.6" height="18.6" rx="2.5"/><text y="2.8">Prd</text></g>
<g id="p6-Pid" class="n k it" transform="translate(446 199)"><rect x="-9.3" y="-9.3" width="18.6" height="18.6" rx="2.5"/><text y="2.8">Pid</text></g>
<g id="p6-Prp" class="n y bo" transform="translate(486 230)"><rect x="-9.3" y="-9.3" width="18.6" height="18.6" rx="2.5"/><text y="2.8">Prp</text></g>
<g id="p6-Pd" class="n k it" transform="translate(446 259)"><rect x="-9.3" y="-9.3" width="18.6" height="18.6" rx="2.5"/><text y="2.8">Pd</text></g>
<g id="p6-Pm" class="n k it" transform="translate(486 289)"><rect x="-9.3" y="-9.3" width="18.6" height="18.6" rx="2.5"/><text y="2.8">Pm</text></g>
</g>
</g>
</svg>
